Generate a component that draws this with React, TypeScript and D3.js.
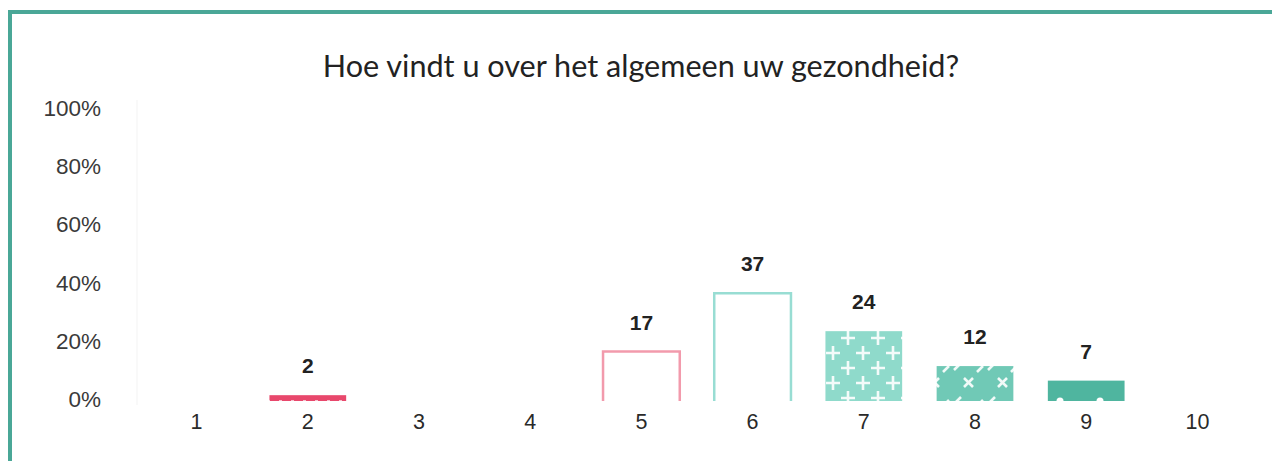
import React from "react";
import * as d3 from "d3";

const categories = ["1", "2", "3", "4", "5", "6", "7", "8", "9", "10"];
const values = [0, 2, 0, 0, 17, 37, 24, 12, 7, 0];
const yTicks = [0, 20, 40, 60, 80, 100];
const title = "Hoe vindt u over het algemeen uw gezondheid?";

const W = 1272;
const H = 461;

type BarStyle = { fill: string; stroke: string };
const barStyles: Record<string, BarStyle> = {
  "2": { fill: "url(#p2)", stroke: "none" },
  "5": { fill: "#ffffff", stroke: "#f29aac" },
  "6": { fill: "#ffffff", stroke: "#98ddd3" },
  "7": { fill: "url(#p7)", stroke: "none" },
  "8": { fill: "url(#p8)", stroke: "none" },
  "9": { fill: "url(#p9)", stroke: "none" },
};

export default function App() {
  const x = d3.scaleBand<string>().domain(categories).range([141, 1253]).paddingInner(0.31).paddingOuter(0.155);
  const y = d3.scaleLinear().domain([0, 100]).range([401, 110]);
  const labelFont = "'Liberation Sans', Arial, sans-serif";

  return (
    <svg width={W} height={H} style={{ position: "fixed", left: 0, top: 0, background: "#fff" }}>
      <defs>
        <pattern id="p2" width="12" height="8" patternUnits="userSpaceOnUse" x="0" y={y(2)}>
          <rect width="12" height="8" fill="#e8486c" />
          <rect x="3" y="5" width="3" height="2" fill="#ffffff" opacity="0.8" />
        </pattern>
        <pattern id="p7" width="30" height="30" patternUnits="userSpaceOnUse" x="0" y="0">
          <rect width="30" height="30" fill="#8fdacb" />
          <path d="M8 1 v14 M1 8 h14 M23 16 v14 M16 23 h14" stroke="#ffffff" strokeWidth="2.6" opacity="0.9" />
        </pattern>
        <pattern id="p8" width="34" height="34" patternUnits="userSpaceOnUse" x="0" y="0">
          <rect width="34" height="34" fill="#70c9b6" />
          <path d="M12 4 l9 9 M21 4 l-9 9 M2 30 l7 -7 M25 32 l6 -6" stroke="#ffffff" strokeWidth="2.6" opacity="0.9" />
        </pattern>
        <pattern id="p9" width="40" height="40" patternUnits="userSpaceOnUse" x="0" y={401 - 40}>
          <rect width="40" height="40" fill="#4fb59f" />
          <circle cx="20" cy="40" r="3.5" fill="#ffffff" />
        </pattern>
      </defs>

      {/* frame */}
      <path d={`M 10 ${H + 5} V 12 H ${W + 5}`} fill="none" stroke="#4aa797" strokeWidth={4} />

      {/* faint vertical axis line */}
      <line x1={137} x2={137} y1={100} y2={405} stroke="#f3f3f3" strokeWidth={1} />

      {/* title */}
      <text x={641} y={77} textAnchor="middle" fontFamily="Lato, sans-serif" fontSize={30.6} fill="#222">
        {title}
      </text>

      {/* y axis labels */}
      {yTicks.map((t) => (
        <text key={t} x={101} y={y(t) + 6} textAnchor="end" fontFamily={labelFont} fontSize={22.5} fill="#3a3a3a">
          {`${t}%`}
        </text>
      ))}

      {/* bars */}
      {categories.map((c, i) => {
        const v = values[i];
        if (!v) return null;
        const st = barStyles[c];
        const bx = x(c)!;
        const bw = x.bandwidth();
        const top = y(v);
        const base = y(0);
        return (
          <g key={c}>
            {st.stroke !== "none" ? (
              <>
                <rect x={bx} y={top} width={bw} height={base - top} fill={st.fill} />
                <path d={`M ${bx} ${base} V ${top} H ${bx + bw} V ${base}`} fill="none" stroke={st.stroke} strokeWidth={2.5} />
              </>
            ) : (
              <rect x={bx} y={top} width={bw} height={base - top} fill={st.fill} />
            )}
            <text x={bx + bw / 2} y={top - 22} textAnchor="middle" fontFamily={labelFont} fontWeight="bold" fontSize={21} fill="#222">
              {v}
            </text>
          </g>
        );
      })}

      {/* x labels */}
      {categories.map((c) => (
        <text key={c} x={x(c)! + x.bandwidth() / 2} y={429} textAnchor="middle" fontFamily={labelFont} fontSize={21.5} fill="#2a2a2a">
          {c}
        </text>
      ))}
    </svg>
  );
}
